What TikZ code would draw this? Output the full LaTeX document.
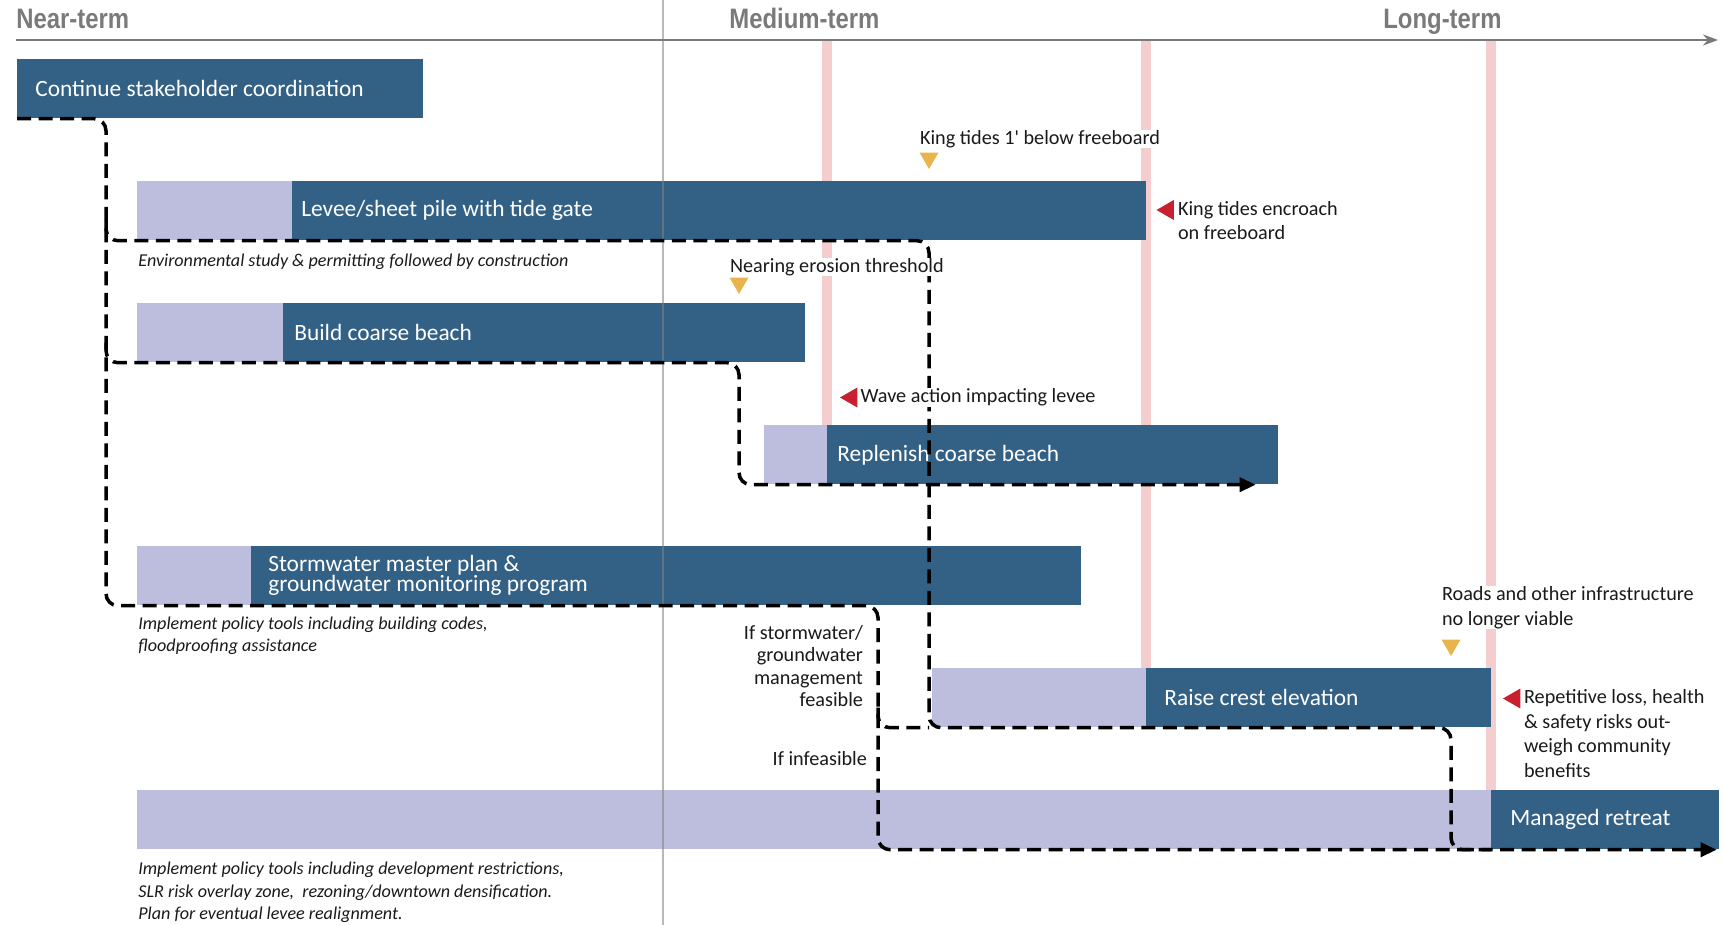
\documentclass[tikz,border=0pt]{standalone}
\usepackage{fontspec}
\setmainfont{Carlito}
\newfontfamily\headfont[FakeStretch=0.85]{Liberation Sans}
\usetikzlibrary{arrows.meta, positioning, shapes.geometric, backgrounds}
\definecolor{cdark}{HTML}{336185}
\definecolor{clight}{HTML}{BDBDDD}
\definecolor{cband}{HTML}{F4CDCF}
\definecolor{cyellow}{HTML}{E9B44C}
\definecolor{cred}{HTML}{C8202F}
\definecolor{cgrey}{HTML}{7A7A7A}
\definecolor{cink}{HTML}{1A1A1A}
\tikzset{
  darkbar/.style={fill=cdark, minimum height=11.8mm, inner sep=0pt, anchor=north west},
  prepbar/.style={fill=clight, minimum height=11.8mm, inner sep=0pt},
  bartext/.style={font=\fontsize{13.3pt}{15pt}\selectfont, text=white, align=left, inner sep=0pt},
  term/.style={font=\headfont\bfseries\fontsize{16pt}{18pt}\selectfont, text=cgrey, anchor=base west, inner sep=0pt},
  trigger/.style={font=\fontsize{11.5pt}{14pt}\selectfont, text=cink, align=left, inner sep=0.4pt, fill=white, anchor=west},
  note/.style={font=\itshape\fontsize{10.3pt}{12.8pt}\selectfont, text=cink, align=left, inner sep=0pt, anchor=west},
  watch/.style={regular polygon, regular polygon sides=3, shape border rotate=180, fill=cyellow, inner sep=0pt, minimum size=4.4mm},
  act/.style={regular polygon, regular polygon sides=3, shape border rotate=90, fill=cred, inner sep=0pt, minimum size=4.6mm},
  route/.style={draw=black, line width=0.7mm, dash pattern=on 2.8mm off 1.5mm, rounded corners=2.4mm},
  routeend/.style={route, -{Triangle[length=3.2mm, width=2.8mm]}},
  band/.style={draw=cband, line width=2mm},
  axis/.style={draw=cgrey, line width=0.45mm, -{Stealth[length=3mm, width=2.2mm]}},
  divider/.style={draw=gray, line width=0.25mm, opacity=0.55},
}

\begin{document}
\begin{tikzpicture}[x=0.2mm, y=-0.2mm]
  \useasboundingbox (0,0) rectangle (1724,925);
  \coordinate (axisstart) at (16,40);
  \coordinate (axisend) at (1718,40);
  \node[term] (near) at (16,29) {Near-term};
  \node[term] (medium) at (729,29) {Medium-term};
  \node[term] (long) at (1383,29) {Long-term};
  \draw[axis] (axisstart) -- (axisend);

  \node[darkbar, minimum width=81.2mm] (coord) at (17,59) {};
  \node[darkbar, minimum width=170.8mm] (levee) at (292,181) {};
  \node[prepbar, minimum width=31mm, left=0pt of levee] (leveeprep) {};
  \node[darkbar, minimum width=104.4mm] (beach) at (283,303) {};
  \node[prepbar, minimum width=29.2mm, left=0pt of beach] (beachprep) {};
  \node[darkbar, minimum width=90.2mm] (renew) at (827,425) {};
  \node[prepbar, minimum width=12.6mm, left=0pt of renew] (renewprep) {};
  \node[darkbar, minimum width=166mm] (storm) at (251,546) {};
  \node[prepbar, minimum width=22.8mm, left=0pt of storm] (stormprep) {};
  \node[darkbar, minimum width=69mm] (crest) at (1146,668) {};
  \node[prepbar, minimum width=42.8mm, left=0pt of crest] (crestprep) {};
  \node[darkbar, minimum width=45.6mm] (retreat) at (1491,790) {};
  \node[prepbar, minimum width=270.8mm, left=0pt of retreat] (retreatprep) {};

  \begin{scope}[on background layer]
    \foreach \b in {renew, crest, retreat}
      \draw[band] (\b.north west |- axisstart) -- (\b.north west);
  \end{scope}
  \draw[divider] (663,0) -- (663,925);

  \node[bartext, right=3.6mm of coord.west] {Continue stakeholder coordination};
  \node[bartext, right=1.8mm of levee.west] {Levee/sheet pile with tide gate};
  \node[bartext, right=2.2mm of beach.west] {Build coarse beach};
  \node[bartext, right=2mm of renew.west] {Replenish coarse beach};
  \node[bartext, right=3.4mm of storm.west] {Stormwater master plan \&\\[-3.6pt]groundwater monitoring program};
  \node[bartext, right=3.6mm of crest.west] {Raise crest elevation};
  \node[bartext, right=3.8mm of retreat.west] {Managed retreat};

  \coordinate (trunk) at (106,119);
  \coordinate (beachdrop) at (739,0);
  \coordinate (stormdrop) at (878,0);
  \coordinate (leveedrop) at (929,0);
  \coordinate (crestdrop) at (1451,0);
  \draw[routeend] (coord.south west) -| (trunk |- storm.south) -| (stormdrop |- retreat.south) -- ([xshift=-0.6mm]retreat.south east);
  \draw[route] ([yshift=4mm]trunk |- levee.south) |- (leveedrop |- levee.south) |- (crestdrop |- crest.south) |- (retreat.south west);
  \draw[routeend] ([yshift=4mm]trunk |- beach.south) |- (beachdrop |- beach.south) |- ([xshift=-4.6mm]renew.south east);
  \draw[route] ([yshift=4mm]stormdrop |- crest.south) |- (leveedrop |- crest.south);

  \node[watch] (tide1) at (929,158) {};
  \node[trigger] at (919,139) {King tides 1\textquotesingle{} below freeboard};
  \node[act] (tide2) at (1168,210) {};
  \node[trigger] at (1177,220.5) {King tides encroach\\on freeboard};
  \node[watch] (erosion) at (739,283) {};
  \node[trigger] at (729,267) {Nearing erosion threshold};
  \node[act] (wave) at (851.5,397.5) {};
  \node[trigger, right=0.4mm of wave.east] {Wave action impacting levee};
  \node[watch] (roads) at (1451,645) {};
  \node[trigger] at (1441,607.5) {Roads and other infrastructure\\no longer viable};
  \node[act] (loss) at (1514.5,698.5) {};
  \node[trigger] at (1523,733.5) {Repetitive loss, health\\\& safety risks out-\\weigh community\\benefits};
  \node[trigger, align=right, anchor=east, font=\fontsize{11.5pt}{12.6pt}\selectfont] at (864,666) {If stormwater/\\groundwater\\management\\feasible};
  \node[trigger, anchor=east] at (868,759) {If infeasible};

  \node[note] at (138,262) {Environmental study \& permitting followed by construction};
  \node[note] at (138,636) {Implement policy tools including building codes,\\floodproofing assistance};
  \node[note] at (138,892.5) {Implement policy tools including development restrictions,\\SLR risk overlay zone,\ \ rezoning/downtown densification.\\Plan for eventual levee realignment.};
\end{tikzpicture}
\end{document}
